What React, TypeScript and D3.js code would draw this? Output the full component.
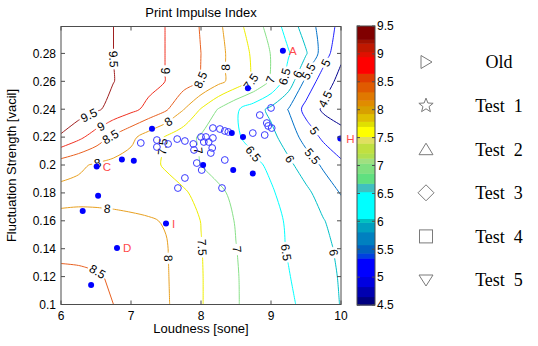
import React from "react";
import * as d3 from "d3";

// ---------- data ----------
const loudness = [6, 6.25, 6.5, 6.75, 7, 7.25, 7.5, 7.75, 8, 8.25, 8.5, 8.75, 9, 9.25, 9.5, 9.75, 10];
const fluctuation = [0.3, 0.28, 0.26, 0.24, 0.22, 0.2, 0.18, 0.16, 0.14, 0.12, 0.1];
const impulseGrid = [
  [9.9, 9.75, 9.62, 9.5, 9.33, 9.17, 8.99, 8.73, 8.47, 8.09, 7.68, 7.24, 6.79, 6.28, 5.75, 5.29, 4.85],
  [9.9, 9.75, 9.62, 9.5, 9.33, 9.17, 8.99, 8.75, 8.5, 8.15, 7.78, 7.42, 6.98, 6.54, 6.05, 5.25, 4.6],
  [9.9, 9.77, 9.64, 9.51, 9.34, 9.17, 8.99, 8.74, 8.49, 8.13, 7.8, 7.46, 6.98, 6.3, 5.37, 4.73, 4.35],
  [9.85, 9.75, 9.57, 9.35, 9.13, 8.87, 8.57, 8.02, 7.47, 6.97, 6.57, 6.23, 5.89, 5.48, 4.83, 4.42, 4.3],
  [9.45, 9.12, 8.77, 8.42, 8.12, 7.77, 7.45, 7.18, 6.94, 6.75, 6.56, 6.35, 6.13, 5.78, 5.31, 4.9, 4.65],
  [8.22, 8.07, 7.95, 7.86, 7.78, 7.62, 7.45, 7.22, 6.99, 6.85, 6.72, 6.6, 6.42, 6.1, 5.78, 5.42, 5.1],
  [7.85, 7.87, 7.87, 7.86, 7.84, 7.78, 7.68, 7.57, 7.33, 7.08, 6.9, 6.72, 6.55, 6.34, 6.1, 5.8, 5.47],
  [8.12, 8.13, 8.12, 8.1, 8.07, 8.04, 7.97, 7.73, 7.49, 7.23, 6.97, 6.8, 6.62, 6.45, 6.23, 6.02, 5.8],
  [8.33, 8.35, 8.33, 8.28, 8.2, 8.12, 8.03, 7.78, 7.52, 7.26, 7.01, 6.83, 6.65, 6.47, 6.28, 6.1, 5.92],
  [8.65, 8.6, 8.55, 8.44, 8.3, 8.16, 8.04, 7.8, 7.53, 7.28, 7.03, 6.85, 6.69, 6.52, 6.34, 6.15, 5.96],
  [8.85, 8.75, 8.65, 8.5, 8.33, 8.18, 8.05, 7.81, 7.53, 7.28, 7.03, 6.87, 6.72, 6.57, 6.4, 6.21, 5.98],
];
const levels = [4.5, 5, 5.5, 6, 6.5, 7, 7.5, 8, 8.5, 9, 9.5];
const levelColors = ["#00008f", "#2020ff", "#0070c8", "#00c0c8", "#00ffff", "#88e088", "#eeee00", "#e8a020", "#e86020", "#f03020", "#a02020"];

const cbEdges = [4.5, 4.65, 4.83, 5.01, 5.34, 5.43, 5.58, 5.81, 5.98, 6.05, 6.53, 6.68, 6.86, 7.04, 7.13, 7.22, 7.4, 7.52, 7.7, 7.79, 7.93, 8.07, 8.17, 8.32, 8.5, 8.65, 8.95, 9.04, 9.19, 9.26, 9.5];
const cbColors = ["#000080", "#0000b0", "#0000e0", "#0000ff", "#0040e0", "#0060c0", "#0080c0", "#00a0c0", "#00c0c0", "#00ffff", "#40c0c0", "#60e080", "#80e080", "#a0e080", "#b0e050", "#c0e040", "#e0e060", "#ffff00", "#e0e000", "#e0c000", "#d8a000", "#e08c00", "#e07800", "#e05a00", "#e03c00", "#ff0000", "#e01000", "#c01800", "#a01000", "#800000"];
const cbTicks = [4.5, 5, 5.5, 6, 6.5, 7, 7.5, 8, 8.5, 9, 9.5];

const xTicks = [6, 7, 8, 9, 10];
const yTicks = [0.1, 0.12, 0.14, 0.16, 0.18, 0.2, 0.22, 0.24, 0.26, 0.28];

const testX = [9.17, 8.67, 7.3, 6.51, 6.87, 7.04, 8.03, 8.44, 8.6, 9.99, 6.53, 6.31, 7.5, 6.8, 6.43, 8.46, 8.74];
const testY = [0.282, 0.255, 0.226, 0.199, 0.204, 0.203, 0.2, 0.223, 0.22, 0.219, 0.178, 0.167, 0.158, 0.1405, 0.114, 0.1965, 0.194];
const testNames = ["A", "", "", "C", "", "", "", "", "", "H", "", "", "I", "D", "", "", ""];

const oldX = [7.14, 7.37, 7.37, 7.53, 7.66, 7.77, 7.89, 8.0, 8.07, 8.04, 8.11, 8.17, 8.27, 8.34, 8.39, 8.16, 8.14, 7.9, 7.94, 8.01, 7.77, 7.67, 8.3, 8.34, 8.74, 8.91, 8.84, 8.94, 8.96, 9.0, 9.01, 8.17];
const oldY = [0.2158, 0.2179, 0.2129, 0.2151, 0.2186, 0.2172, 0.2151, 0.2201, 0.2201, 0.2165, 0.2165, 0.2265, 0.2258, 0.2244, 0.2237, 0.2122, 0.2086, 0.2108, 0.2014, 0.1964, 0.1907, 0.1835, 0.1835, 0.2036, 0.2229, 0.2215, 0.2358, 0.2301, 0.228, 0.2409, 0.2265, 0.2194];

const legendNames = ["Old", "Test  1", "Test  2", "Test  3", "Test  4", "Test  5"];
const legendShapes = ["right", "star", "up", "diamond", "square", "down"];

// ---------- layout ----------
const W = 538, H = 346;
const PL = 61, PR = 341, PT = 26.5, PB = 304.5;
const CBX = 357, CBW = 18, CBT = 26, CBB = 305;
const SANS = "'Liberation Sans', Arial, Helvetica, sans-serif";
const SERIF = "'Liberation Serif', 'Times New Roman', serif";

const xS = d3.scaleLinear().domain([6, 10]).range([PL, PR]);
const yS = d3.scaleLinear().domain([0.1, 0.2993]).range([PB, PT]);
const cbS = d3.scaleLinear().domain([4.5, 9.5]).range([CBB, CBT]);

type P = [number, number];

function buildIsolines() {
  const nx = loudness.length, ny = fluctuation.length;
  const flat: number[] = [];
  impulseGrid.forEach((r) => r.forEach((v) => flat.push(v)));
  const dxStep = loudness[1] - loudness[0];
  const dyStep = fluctuation[1] - fluctuation[0];
  const toPx = (p: number[]): P => [
    xS(loudness[0] + (p[0] - 0.5) * dxStep),
    yS(fluctuation[0] + (p[1] - 0.5) * dyStep),
  ];
  const polys = d3.contours().size([nx, ny]).thresholds(levels)(flat);
  const out: { level: number; idx: number; pts: P[]; closed: boolean }[] = [];
  polys.forEach((mp) => {
    const li = levels.indexOf(mp.value);
    mp.coordinates.forEach((poly) =>
      poly.forEach((ring) => {
        let pts = ring.slice();
        const f = pts[0], l = pts[pts.length - 1];
        if (f[0] === l[0] && f[1] === l[1]) pts = pts.slice(0, -1);
        const onB = (p: number[]) => p[0] <= 0 || p[0] >= nx || p[1] <= 0 || p[1] >= ny;
        const bi = pts.findIndex(onB);
        if (bi < 0) {
          out.push({ level: mp.value, idx: li, pts: pts.map(toPx), closed: true });
          return;
        }
        const rot = pts.slice(bi).concat(pts.slice(0, bi));
        let cur: number[][] = [];
        rot.forEach((p) => {
          if (onB(p)) {
            if (cur.length > 1) out.push({ level: mp.value, idx: li, pts: cur.map(toPx), closed: false });
            cur = [];
          } else cur.push(p);
        });
        if (cur.length > 1) out.push({ level: mp.value, idx: li, pts: cur.map(toPx), closed: false });
      })
    );
  });
  return out;
}

function cumLen(pts: P[]) {
  const c = [0];
  for (let i = 1; i < pts.length; i++) c.push(c[i - 1] + Math.hypot(pts[i][0] - pts[i - 1][0], pts[i][1] - pts[i - 1][1]));
  return c;
}
function pointAt(pts: P[], c: number[], s: number): P {
  s = Math.max(0, Math.min(c[c.length - 1], s));
  for (let i = 1; i < pts.length; i++) {
    if (c[i] >= s) {
      const t = c[i] === c[i - 1] ? 0 : (s - c[i - 1]) / (c[i] - c[i - 1]);
      return [pts[i - 1][0] + t * (pts[i][0] - pts[i - 1][0]), pts[i - 1][1] + t * (pts[i][1] - pts[i - 1][1])];
    }
  }
  return pts[pts.length - 1];
}
function subLine(pts: P[], c: number[], a: number, b: number): P[] {
  const r: P[] = [pointAt(pts, c, a)];
  for (let i = 0; i < pts.length; i++) if (c[i] > a && c[i] < b) r.push(pts[i]);
  r.push(pointAt(pts, c, b));
  return r;
}
const fmtLevel = (v: number) => d3.format("~g")(v);
const textW = (s: string) => s.length * 6.2 + (s.includes(".") ? -3 : 0);

function legendMarker(shape: string, cx: number, cy: number) {
  const st = { fill: "none", stroke: "#7a7a7a", strokeWidth: 1 };
  switch (shape) {
    case "right":
      return <path d={`M${cx - 5},${cy - 6.5}L${cx + 6},${cy}L${cx - 5},${cy + 6.5}Z`} {...st} />;
    case "up":
      return <path d={`M${cx},${cy - 6}L${cx + 7},${cy + 5.5}L${cx - 7},${cy + 5.5}Z`} {...st} />;
    case "down":
      return <path d={`M${cx - 7},${cy - 5}L${cx + 7},${cy - 5}L${cx},${cy + 6}Z`} {...st} />;
    case "diamond":
      return <path d={`M${cx},${cy - 8}L${cx + 8},${cy}L${cx},${cy + 8}L${cx - 8},${cy}Z`} {...st} />;
    case "square":
      return <rect x={cx - 6.5} y={cy - 6.5} width={13} height={13} {...st} />;
    default: {
      const pts: string[] = [];
      for (let i = 0; i < 10; i++) {
        const r = i % 2 === 0 ? 7.5 : 3.2;
        const a = -Math.PI / 2 + (i * Math.PI) / 5;
        pts.push(`${cx + r * Math.cos(a)},${cy + r * Math.sin(a)}`);
      }
      return <path d={`M${pts.join("L")}Z`} {...st} />;
    }
  }
}

export default function App() {
  const lines = buildIsolines();
  const lineGen = d3.line<P>().curve(d3.curveCatmullRom.alpha(0.5));
  const pieces: { d: string; color: string }[] = [];
  const labels: { x: number; y: number; a: number; t: string }[] = [];
  lines.forEach((ln) => {
    const pts = ln.closed ? [...ln.pts, ln.pts[0]] : ln.pts;
    const c = cumLen(pts);
    const L = c[c.length - 1];
    const t = fmtLevel(ln.level);
    const gap = textW(t) + 5;
    const n = L < 35 ? 0 : Math.ceil(L / 125);
    const gaps: [number, number][] = [];
    for (let k = 0; k < n; k++) {
      const s = ((k + 0.5) * L) / n;
      const p = pointAt(pts, c, s);
      const p1 = pointAt(pts, c, s - 6), p2 = pointAt(pts, c, s + 6);
      let a = (Math.atan2(p2[1] - p1[1], p2[0] - p1[0]) * 180) / Math.PI;
      if (a > 90) a -= 180;
      if (a <= -90) a += 180;
      labels.push({ x: p[0], y: p[1], a, t });
      gaps.push([s - gap / 2, s + gap / 2]);
    }
    let start = 0;
    const color = levelColors[ln.idx];
    gaps.forEach(([a, b]) => {
      if (a > start) pieces.push({ d: lineGen(subLine(pts, c, start, a)) || "", color });
      start = b;
    });
    if (start < L) pieces.push({ d: lineGen(subLine(pts, c, start, L)) || "", color });
  });

  const axisCol = "#4d4d4d";
  return (
    <svg width={W} height={H} style={{ position: "absolute", left: 0, top: 0, background: "#fff" }} fontFamily={SANS}>
      <defs>
        <clipPath id="plotClip">
          <rect x={PL} y={PT} width={PR - PL} height={PB - PT} />
        </clipPath>
      </defs>
      <rect x={0} y={0} width={W} height={H} fill="#fff" />
      <text x={(PL + PR) / 2} y={17} textAnchor="middle" fontSize={13}>Print Impulse Index</text>

      <g clipPath="url(#plotClip)">
        {pieces.map((p, i) => (
          <path key={i} d={p.d} fill="none" stroke={p.color} strokeWidth={1} />
        ))}
        {labels.map((l, i) => (
          <text key={i} transform={`translate(${l.x},${l.y}) rotate(${l.a})`} textAnchor="middle" dy="0.36em" fontSize={12} fill="#000">
            {l.t}
          </text>
        ))}
        {oldX.map((x, i) => (
          <circle key={i} cx={xS(x)} cy={yS(oldY[i])} r={3.4} fill="none" stroke="#3a3aff" strokeWidth={1} />
        ))}
        {testX.map((x, i) => (
          <circle key={i} cx={xS(x)} cy={yS(testY[i])} r={3} fill="#0000ff" />
        ))}
      </g>
      {testX.map((x, i) =>
        testNames[i] ? (
          <text key={i} x={xS(x) + 6} y={yS(testY[i])} dy="0.36em" fontSize={11.5} fill="#ff4a4a">
            {testNames[i]}
          </text>
        ) : null
      )}

      {/* axes box and ticks */}
      <rect x={PL} y={PT} width={PR - PL} height={PB - PT} fill="none" stroke={axisCol} strokeWidth={1} />
      {xTicks.map((t) => (
        <g key={t}>
          <line x1={xS(t)} x2={xS(t)} y1={PB} y2={PB - 4} stroke={axisCol} />
          <line x1={xS(t)} x2={xS(t)} y1={PT} y2={PT + 4} stroke={axisCol} />
          <text x={xS(t)} y={PB + 15} textAnchor="middle" fontSize={12}>{t}</text>
        </g>
      ))}
      {yTicks.map((t) => (
        <g key={t}>
          <line x1={PL} x2={PL + 4} y1={yS(t)} y2={yS(t)} stroke={axisCol} />
          <line x1={PR} x2={PR - 4} y1={yS(t)} y2={yS(t)} stroke={axisCol} />
          <text x={PL - 5} y={yS(t)} dy="0.36em" textAnchor="end" fontSize={12}>{d3.format("~g")(t)}</text>
        </g>
      ))}
      <text x={(PL + PR) / 2} y={333} textAnchor="middle" fontSize={13}>Loudness [sone]</text>
      <text transform={`translate(16,${(PT + PB) / 2}) rotate(-90)`} textAnchor="middle" fontSize={13}>
        Fluctuation Strength [vacil]
      </text>

      {/* colorbar */}
      {cbColors.map((col, i) => (
        <rect key={i} x={CBX} y={cbS(cbEdges[i + 1])} width={CBW} height={cbS(cbEdges[i]) - cbS(cbEdges[i + 1]) + 0.5} fill={col} />
      ))}
      <rect x={CBX} y={CBT} width={CBW} height={CBB - CBT} fill="none" stroke={axisCol} />
      {cbTicks.map((t) => (
        <g key={t}>
          <line x1={CBX} x2={CBX + 3} y1={cbS(t)} y2={cbS(t)} stroke={axisCol} />
          <line x1={CBX + CBW} x2={CBX + CBW - 3} y1={cbS(t)} y2={cbS(t)} stroke={axisCol} />
          <text x={CBX + CBW + 2} y={cbS(t)} dy="0.36em" fontSize={12}>{d3.format("~g")(t)}</text>
        </g>
      ))}

      {/* legend */}
      {legendNames.map((nm, i) => {
        const cy = 62 + i * 43.6;
        return (
          <g key={nm}>
            {legendMarker(legendShapes[i], 426, cy)}
            <text x={499} y={cy} dy="0.35em" textAnchor="middle" fontFamily={SERIF} fontSize={18}>
              {nm.replace(/ /g, "\u00a0")}
            </text>
          </g>
        );
      })}
    </svg>
  );
}
